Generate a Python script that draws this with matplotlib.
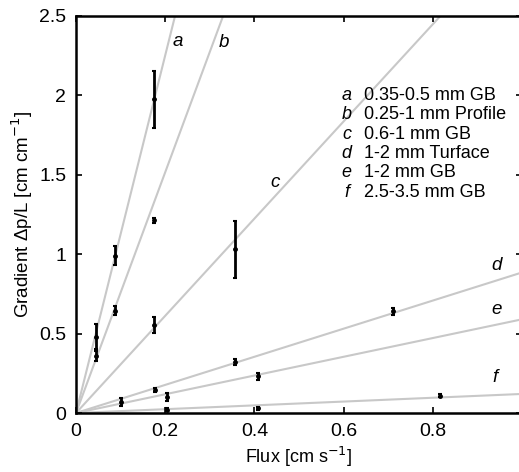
import matplotlib
matplotlib.use("Agg")
import matplotlib.pyplot as plt
import numpy as np

plt.rcParams['font.family'] = ['Liberation Sans', 'DejaVu Sans']

# Fitted lines (slopes through origin) and labels
line_ids = ['a', 'b', 'c', 'd', 'e', 'f']
slopes = [11.26, 7.58, 3.06, 0.885, 0.59, 0.12]
label_x = [0.228, 0.332, 0.446, 0.944, 0.944, 0.94]
label_y = [2.34, 2.33, 1.45, 0.93, 0.65, 0.225]
legend_desc = ['0.35-0.5 mm GB', '0.25-1 mm Profile', '0.6-1 mm GB',
               '1-2 mm Turface', '1-2 mm GB', '2.5-3.5 mm GB']

# Measured points with error bars
flux = [0.045, 0.045, 0.087, 0.087, 0.175, 0.175, 0.175, 0.357, 0.357,
        0.102, 0.177, 0.203, 0.203, 0.408, 0.408, 0.711, 0.816]
grad = [0.48, 0.36, 0.99, 0.645, 1.975, 1.214, 0.555, 1.03, 0.32,
        0.07, 0.145, 0.10, 0.02, 0.23, 0.03, 0.64, 0.11]
err = [0.08, 0.03, 0.06, 0.03, 0.18, 0.015, 0.05, 0.18, 0.02,
       0.025, 0.015, 0.025, 0.01, 0.02, 0.008, 0.02, 0.01]

xticks = [0, 0.2, 0.4, 0.6, 0.8, 1.0]
xticklabels = ['0', '0.2', '0.4', '0.6', '0.8', '']
yticks = [0, 0.5, 1, 1.5, 2, 2.5]
yticklabels = ['0', '0.5', '1', '1.5', '2', '2.5']

fig = plt.figure(figsize=(5.19, 4.72), dpi=100)
ax = fig.add_axes([76/519, 59/472, 446/519, 397/472])

xs = np.array([0, 1.0])
for s in slopes:
    ax.plot(xs, s * xs, color='#c8c8c8', lw=1.5, zorder=1)

ax.errorbar(flux, grad, yerr=err, fmt='o', ms=2.5, color='black',
            ecolor='black', elinewidth=2, capsize=1.5, capthick=1.5, zorder=3)

for lid, lx, ly in zip(line_ids, label_x, label_y):
    ax.text(lx, ly, lid, style='italic', fontsize=13.5, ha='center', va='center')

# legend-like text block
y0 = 2.0
dy = 0.122
for i, (lid, desc) in enumerate(zip(line_ids, legend_desc)):
    yy = y0 - i * dy
    ax.text(0.607, yy, lid, style='italic', fontsize=13, ha='center', va='center')
    ax.text(0.646, yy, desc, fontsize=13, ha='left', va='center')

ax.set_xlim(0, 1)
ax.set_ylim(0, 2.5)
ax.set_xticks(xticks)
ax.set_xticklabels(xticklabels)
ax.set_yticks(yticks)
ax.set_yticklabels(yticklabels)
ax.tick_params(direction='in', top=True, right=True, length=4, width=1.2,
               labelsize=14, pad=7)
for sp in ax.spines.values():
    sp.set_linewidth(1.8)

ax.set_xlabel('Flux [cm s$^{-1}$]', fontsize=13, labelpad=4)
ax.set_ylabel('Gradient \u0394p/L [cm cm$^{-1}$]', fontsize=13.5, labelpad=3)

fig.savefig('out.png', dpi=100)
